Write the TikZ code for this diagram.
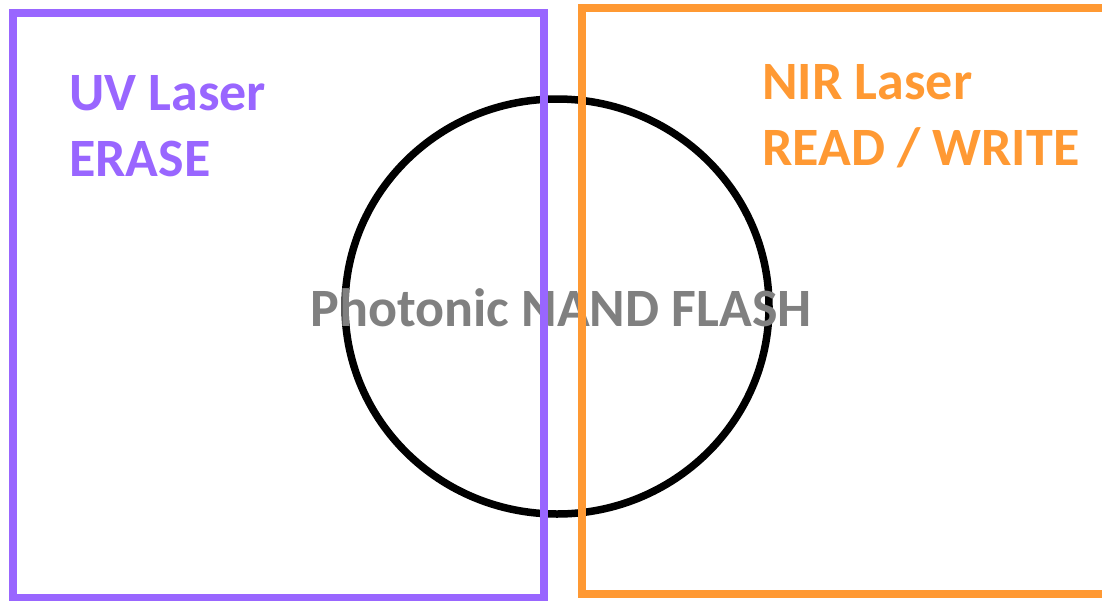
\documentclass[tikz,border=0pt]{standalone}
\usepackage{fontspec}
\setmainfont{Carlito}
\usetikzlibrary{shapes.geometric}
\definecolor{uvpurple}{RGB}{153,102,255}
\definecolor{nirorange}{RGB}{255,153,51}
\definecolor{flashgrey}{RGB}{128,128,128}
\begin{document}
\begin{tikzpicture}[x=1pt,y=-1pt,
  frame/.style={line width=8pt},
  label/.style={inner sep=0pt,anchor=base west,font=\bfseries\fontsize{54}{64}\selectfont},
  ring/.style={draw=black,line width=7.5pt,ellipse,minimum width=424pt,minimum height=415pt,inner sep=0pt,outer sep=0pt}]
\useasboundingbox (0,0) rectangle (1102,600);
\clip (0,0) rectangle (1102,600);
\fill[white] (0,0) rectangle (1102,600);
\node[ring] (chip) at (557,306.5) {};
\node[inner sep=0pt,anchor=base,text=flashgrey,font=\bfseries\fontsize{54}{64}\selectfont] (title) at (561,326) {Photonic NAND FLASH};
\draw[frame,draw=uvpurple] (13,13) rectangle (544,598);
\draw[frame,draw=nirorange] (582,8) rectangle (1112,594);
\node[label,text=uvpurple] (uv1) at (69,110) {UV Laser};
\node[label,text=uvpurple] (uv2) at (69,176) {ERASE};
\node[label,text=nirorange] (nir1) at (762,99) {NIR Laser};
\node[label,text=nirorange] (nir2) at (762,165) {READ / WRITE};
\end{tikzpicture}
\end{document}
